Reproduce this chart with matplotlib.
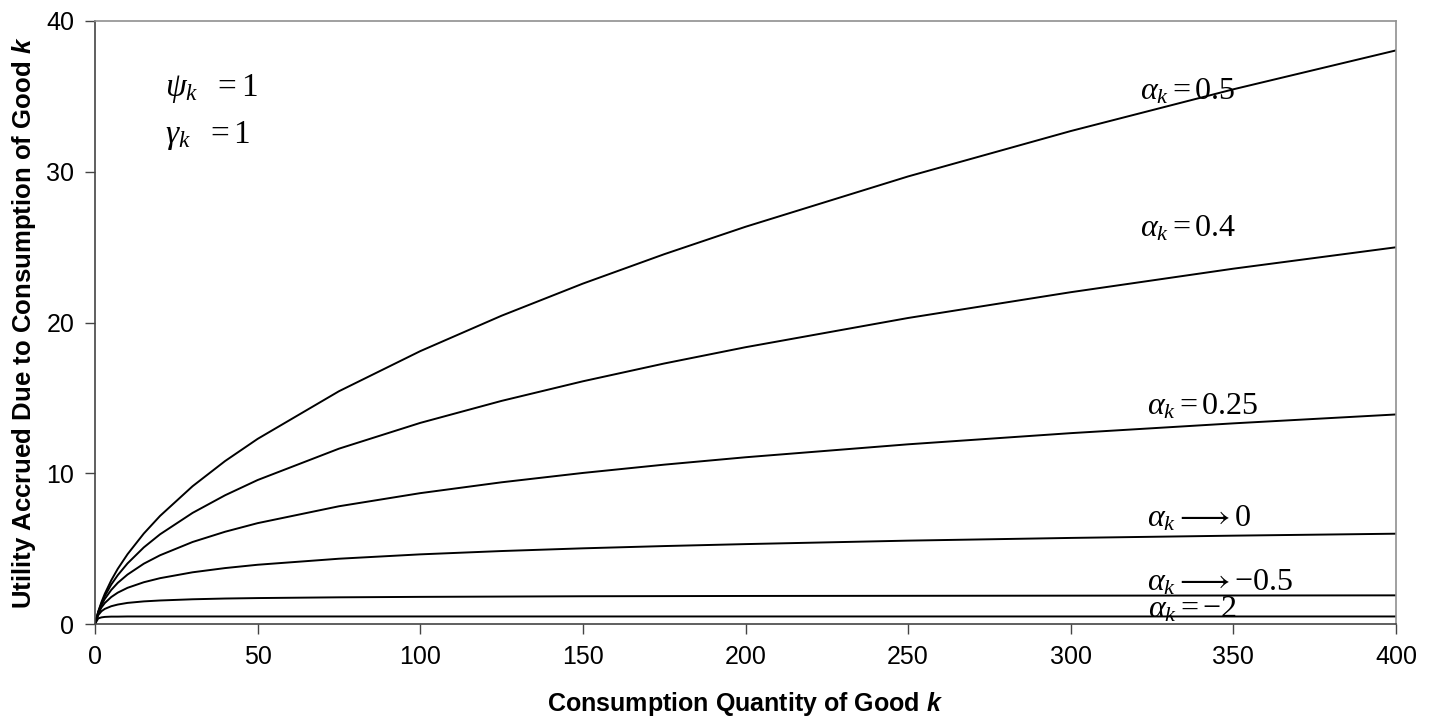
import matplotlib
matplotlib.use("Agg")
import matplotlib.pyplot as plt

# ---- data ----
x = [0, 1, 2, 3, 5, 7, 10, 15, 20, 30, 40, 50, 75, 100, 125, 150, 175, 200, 250, 300, 350, 400]
u_a05 = [0, 0.83, 1.46, 2.00, 2.90, 3.66, 4.63, 6.00, 7.17, 9.14, 10.81, 12.28, 15.44, 18.10, 20.45, 22.58, 24.53, 26.35, 29.69, 32.70, 35.47, 38.05]
u_a04 = [0, 0.80, 1.38, 1.85, 2.62, 3.24, 4.02, 5.08, 5.95, 7.37, 8.54, 9.55, 11.63, 13.34, 14.80, 16.10, 17.28, 18.36, 20.30, 22.01, 23.57, 24.99]
u_a025 = [0, 0.76, 1.26, 1.66, 2.26, 2.73, 3.28, 4.00, 4.56, 5.44, 6.12, 6.69, 7.81, 8.68, 9.40, 10.02, 10.57, 11.06, 11.92, 12.66, 13.31, 13.90]
u_a0 = [0, 0.69, 1.10, 1.39, 1.79, 2.08, 2.40, 2.77, 3.04, 3.43, 3.71, 3.93, 4.33, 4.62, 4.84, 5.02, 5.17, 5.30, 5.53, 5.71, 5.86, 5.99]
u_am05 = [0, 0.59, 0.85, 1.00, 1.18, 1.29, 1.40, 1.50, 1.56, 1.64, 1.69, 1.72, 1.77, 1.80, 1.82, 1.84, 1.85, 1.86, 1.87, 1.88, 1.89, 1.90]
u_am2 = [0, 0.375, 0.44, 0.47, 0.49, 0.49, 0.50, 0.50, 0.50, 0.50, 0.50, 0.50, 0.50, 0.50, 0.50, 0.50, 0.50, 0.50, 0.50, 0.50, 0.50, 0.50]

series = [u_a05, u_a04, u_a025, u_a0, u_am05, u_am2]
labels = [r'$\alpha_k = 0.5$', r'$\alpha_k = 0.4$', r'$\alpha_k = 0.25$',
          r'$\alpha_k \longrightarrow 0$', r'$\alpha_k \longrightarrow {-0.5}$', r'$\alpha_k = -2$']
label_pos = [(321.3, 34.8), (321.3, 25.7), (323.5, 13.9), (323.5, 6.45), (323.5, 2.2), (323.8, 0.4)]

xticks = [0, 50, 100, 150, 200, 250, 300, 350, 400]
yticks = [0, 10, 20, 30, 40]

plt.rcParams['font.family'] = ['Liberation Sans', 'DejaVu Sans']
plt.rcParams['mathtext.fontset'] = 'custom'
plt.rcParams['mathtext.rm'] = 'Liberation Serif'
plt.rcParams['mathtext.it'] = 'Liberation Serif:italic'
plt.rcParams['mathtext.bf'] = 'Liberation Sans:bold'
plt.rcParams['mathtext.bfit'] = 'Liberation Sans:italic:bold'
plt.rcParams['mathtext.fallback'] = 'stix'

fig = plt.figure(figsize=(14.36, 7.19), dpi=100)
ax = fig.add_axes([95/1436, 1 - 624/719, (1396-95)/1436, (624-21)/719])

for s in series:
    ax.plot(x, s, color='black', lw=1.4, solid_joinstyle='round')

for lab, (lx, ly) in zip(labels, label_pos):
    ax.text(lx, ly, lab, fontsize=23, va='baseline', ha='left', color='black')

ax.text(21.5, 35.0, r'$\psi_k\ \ =1$', fontsize=24, va='baseline', ha='left')
ax.text(21.5, 31.9, r'$\gamma_k\ \ =1$', fontsize=24, va='baseline', ha='left')

ax.set_xlim(0, 400)
ax.set_ylim(0, 40)
ax.set_xticks(xticks)
ax.set_yticks(yticks)
ax.tick_params(direction='out', length=7, width=1, colors='#444444', labelcolor='black', labelsize=18, pad=8)

for side in ['left', 'bottom']:
    ax.spines[side].set_color('#444444')
    ax.spines[side].set_linewidth(1.2)
for side in ['top', 'right']:
    ax.spines[side].set_color('#909090')
    ax.spines[side].set_linewidth(1.2)

ax.set_xlabel(r'Consumption Quantity of Good $\mathbfit{k}$', fontsize=18, fontweight='bold')
ax.set_ylabel(r'Utility Accrued Due to Consumption of Good $\mathbfit{k}$', fontsize=18.5, fontweight='bold')
ax.xaxis.set_label_coords(0.5, -0.11)
ax.yaxis.set_label_coords(-0.044, 0.5)

fig.savefig('out.png', dpi=100)
